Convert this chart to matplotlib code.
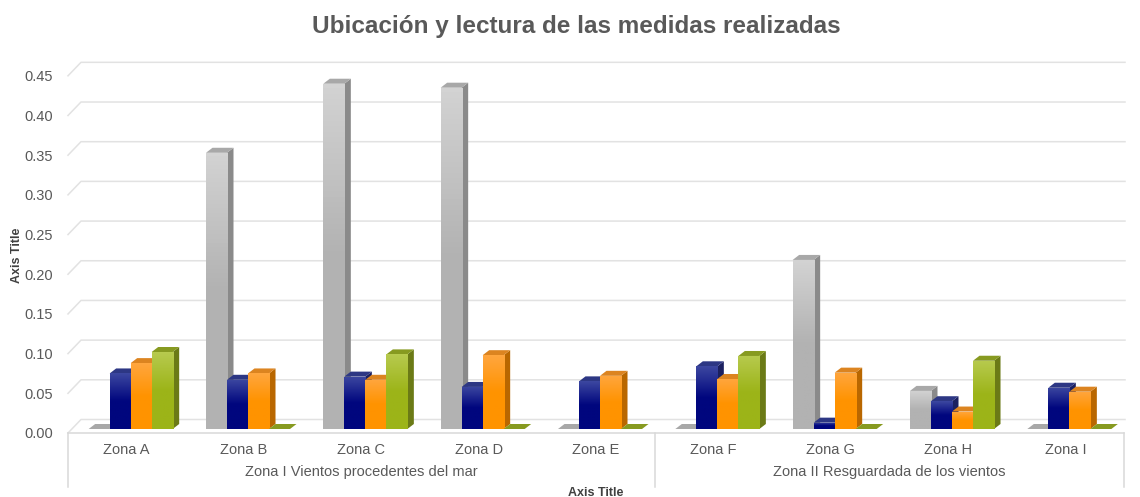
import numpy as np
import matplotlib.pyplot as plt
from matplotlib.patches import Polygon
from matplotlib.colors import LinearSegmentedColormap

plt.rcParams['font.family'] = ['Liberation Sans', 'DejaVu Sans']

# datos
zonas = ['Zona A', 'Zona B', 'Zona C', 'Zona D', 'Zona E',
         'Zona F', 'Zona G', 'Zona H', 'Zona I']
grupos = ['Zona I Vientos procedentes del mar', 'Zona II Resguardada de los vientos']
grupo_n = [5, 4]
serie_gris = [0.0, 0.348, 0.435, 0.430, 0.0, 0.0, 0.213, 0.048, 0.0]
serie_azul = [0.070, 0.062, 0.066, 0.053, 0.060, 0.079, 0.008, 0.035, 0.052]
serie_naranja = [0.083, 0.070, 0.062, 0.093, 0.067, 0.063, 0.071, 0.022, 0.047]
serie_verde = [0.097, 0.0, 0.094, 0.0, 0.0, 0.092, 0.0, 0.086, 0.0]
yticks = [0.00, 0.05, 0.10, 0.15, 0.20, 0.25, 0.30, 0.35, 0.40, 0.45]

series = [serie_gris, serie_azul, serie_naranja, serie_verde]
# (abajo, arriba, lado, tapa)
colores = [('#b2b2b2', '#d3d3d3', '#8a8a8a', '#a8a8a8'),
           ('#00067e', '#3c47a0', '#1b2060', '#2d3784'),
           ('#ff9300', '#ffa63e', '#b96700', '#dc8420'),
           ('#9cb418', '#b7ca4e', '#6b7a16', '#879a20')]

fig = plt.figure(figsize=(11.4, 4.97), dpi=100)
ax = fig.add_axes([68 / 1140, 64 / 497, 1056 / 1140, 381 / 497])
ax.set_xlim(-0.5, 8.5)
ax.set_ylim(0, 0.48)

PX = 1 / 117.3          # datos x por pixel
PY = 0.05 / 39.7        # datos y por pixel
fx, fy = 4 * PX, 4 * PY       # plano de las barras
bx, by = 13 * PX, 13.5 * PY   # pared del fondo
dx, dy = 6.5 * PX, 5 * PY     # profundidad de la barra
ancho = 21 * PX

# rejilla en la pared del fondo
for v in yticks:
    ax.plot([-0.5, -0.5 + bx, 8.5 + 1 * PX], [v, v + by, v + by],
            color='#e2e2e2', lw=1.1, zorder=1, clip_on=False)
ax.plot([-0.5, 8.5], [0, 0], color='#d9d9d9', lw=1.1, zorder=1, clip_on=False)
for xv in [-0.5, 4.5, 8.5]:
    ax.plot([xv, xv], [0, -54 * PY], color='#d9d9d9', lw=1.1, clip_on=False)

x = np.arange(len(zonas))
z = 3
for k in range(len(zonas)):
    for s, vals in enumerate(series):
        bot, top, lado, tapa = colores[s]
        x0 = x[k] + fx + (s - 2) * ancho
        x1 = x0 + ancho
        h = vals[k]
        y0 = fy
        ax.add_patch(Polygon([(x1, y0), (x1 + dx, y0 + dy), (x1 + dx, y0 + h + dy), (x1, y0 + h)],
                             closed=True, facecolor=lado, edgecolor='none', zorder=z))
        ax.add_patch(Polygon([(x0, y0 + h), (x1, y0 + h), (x1 + dx, y0 + h + dy), (x0 + dx, y0 + h + dy)],
                             closed=True, facecolor=tapa, edgecolor='none', zorder=z + 0.1))
        if h > 0:
            b = ax.bar(x0, h, width=ancho, bottom=y0, align='edge', color=bot,
                       edgecolor='none', zorder=z + 0.2)[0]
            cmap = LinearSegmentedColormap.from_list('g', [bot, bot, top])
            im = ax.imshow(np.linspace(0, 1, 64).reshape(-1, 1), extent=(x0, x1, y0, y0 + h),
                           origin='lower', aspect='auto', cmap=cmap, zorder=z + 0.3)
            im.set_clip_path(b)
        z += 1

ax.set_xlim(-0.5, 8.5)
ax.set_ylim(0, 0.48)
ax.set_aspect('auto')

for sp in ax.spines.values():
    sp.set_visible(False)
ax.set_xticks([])
ax.set_yticks(yticks)
ax.set_yticklabels(['%.2f' % v for v in yticks], fontsize=10.5, color='#595959')
ax.tick_params(axis='y', length=0, pad=11)
ax.set_facecolor('none')

for k, nombre in enumerate(zonas):
    ax.text(x[k], -17 * PY, nombre, ha='center', va='center', fontsize=10.5, color='#595959')
inicio = 0
for g, n in zip(grupos, grupo_n):
    ax.text(inicio + (n - 1) / 2, -39 * PY, g, ha='center', va='center',
            fontsize=10.5, color='#595959')
    inicio += n
ax.text(4.0, -60 * PY, 'Axis Title', ha='center', va='center', fontsize=9,
        fontweight='bold', color='#404040')

fig.text(17 / 1140, 1 - 255 / 497, 'Axis Title', rotation=90, ha='center', va='center',
         fontsize=9, fontweight='bold', color='#404040')
fig.text(576 / 1140, 1 - 27 / 497, 'Ubicación y lectura de las medidas realizadas',
         ha='center', va='center', fontsize=17.5, fontweight='bold', color='#595959')

fig.savefig('out.png', dpi=100)
